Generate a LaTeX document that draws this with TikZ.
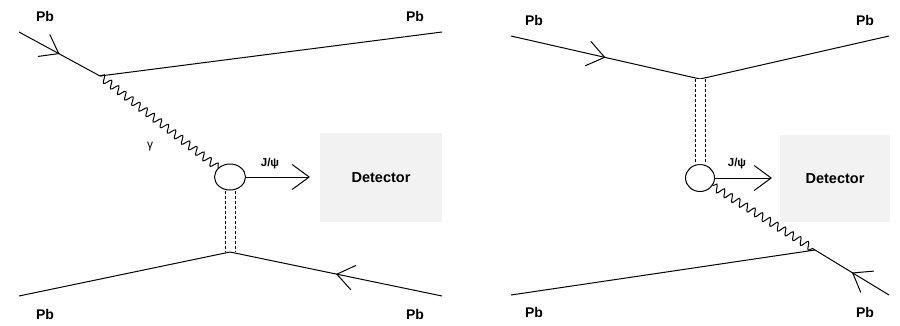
\documentclass[tikz,border=0pt]{standalone}
\usepackage{fontspec}
\setmainfont{Liberation Sans}
\usetikzlibrary{arrows.meta,decorations.pathmorphing,decorations.markings,shapes.geometric}
\begin{document}
\begin{tikzpicture}[x=1pt,y=-1pt,
  line width=1pt,
  lbl/.style={font=\bfseries\fontsize{14}{16}\selectfont, inner sep=0pt},
  psilbl/.style={font=\bfseries\fontsize{11.5}{13}\selectfont, inner sep=0pt},
  blob/.style={draw, ellipse, minimum width=31pt, minimum height=26pt, inner sep=0pt},
  detbox/.style={fill=black!5, minimum width=122pt, minimum height=89pt, inner sep=0pt,
                 font=\bfseries\fontsize{14.5}{16}\selectfont},
  fermion/.style={postaction={decorate},
    decoration={markings, mark=at position 0.5 with {\arrow{Straight Barb[length=17pt,width=25pt,line width=1pt]}}}},
  photon/.style={decorate, decoration={snake, amplitude=3.8pt, segment length=9pt}},
  pomeron/.style={double, double distance=9pt, dash pattern=on 3pt off 2pt},
  outgoing/.style={-{Straight Barb[length=17pt,width=25pt]}}
]
\useasboundingbox (0,0) rectangle (900,325);

% ---------------- left diagram: photon from the upper ion ----------------
\coordinate (a-in)  at (19,32);
\coordinate (a-v1)  at (100,76);
\coordinate (a-out) at (442,32);
\coordinate (a-v2)  at (230,252);
\coordinate (a-bl)  at (19,296);
\coordinate (a-br)  at (442,296);
\coordinate (a-tip) at (310,177);

\node[blob] (a-blob) at (230,177) {};
\node[detbox] (a-det) at (381,177.5) {Detector};

\draw[fermion] (a-in) -- (a-v1);
\draw (a-v1) -- (a-out);
\draw[photon] (a-v1) -- (a-blob);
\draw[pomeron] (a-blob.south) -- (a-v2);
\draw (a-bl) -- (a-v2);
\draw[fermion] (a-br) -- (a-v2);
\draw[outgoing] (a-blob.east) -- (a-tip);

\node[lbl] (a-pb1) at (45,16) {Pb};
\node[lbl] (a-pb2) at (415,16) {Pb};
\node[lbl] (a-pb3) at (45,314) {Pb};
\node[lbl] (a-pb4) at (415,314) {Pb};
\node[font=\fontsize{12}{14}\selectfont, inner sep=0pt] (a-gamma) at (150,147) {γ};
\node[psilbl] (a-psi) at (270,164) {J/ψ};

% ---------------- right diagram: photon from the lower ion ----------------
\coordinate (b-in)  at (511,36);
\coordinate (b-v1)  at (700,79);
\coordinate (b-out) at (889,36);
\coordinate (b-v2)  at (815,250);
\coordinate (b-bl)  at (511,295);
\coordinate (b-br)  at (889,295);
\coordinate (b-tip) at (772,178);

\node[blob, minimum width=29pt, minimum height=27pt] (b-blob) at (700,178) {};
\node[detbox, minimum width=110pt, minimum height=87pt] (b-det) at (835,178.5) {Detector};

\draw[fermion] (b-in) -- (b-v1);
\draw (b-v1) -- (b-out);
\draw[pomeron] (b-v1) -- (b-blob.north);
\draw[photon] (b-blob) -- (b-v2);
\draw (b-bl) -- (b-v2);
\draw[fermion] (b-br) -- (b-v2);
\draw[outgoing] (b-blob.east) -- (b-tip);

\node[lbl] (b-pb1) at (534,20) {Pb};
\node[lbl] (b-pb2) at (865,20) {Pb};
\node[lbl] (b-pb3) at (534,312) {Pb};
\node[lbl] (b-pb4) at (865,312) {Pb};
\node[psilbl] (b-psi) at (737,164) {J/ψ};
\end{tikzpicture}
\end{document}
